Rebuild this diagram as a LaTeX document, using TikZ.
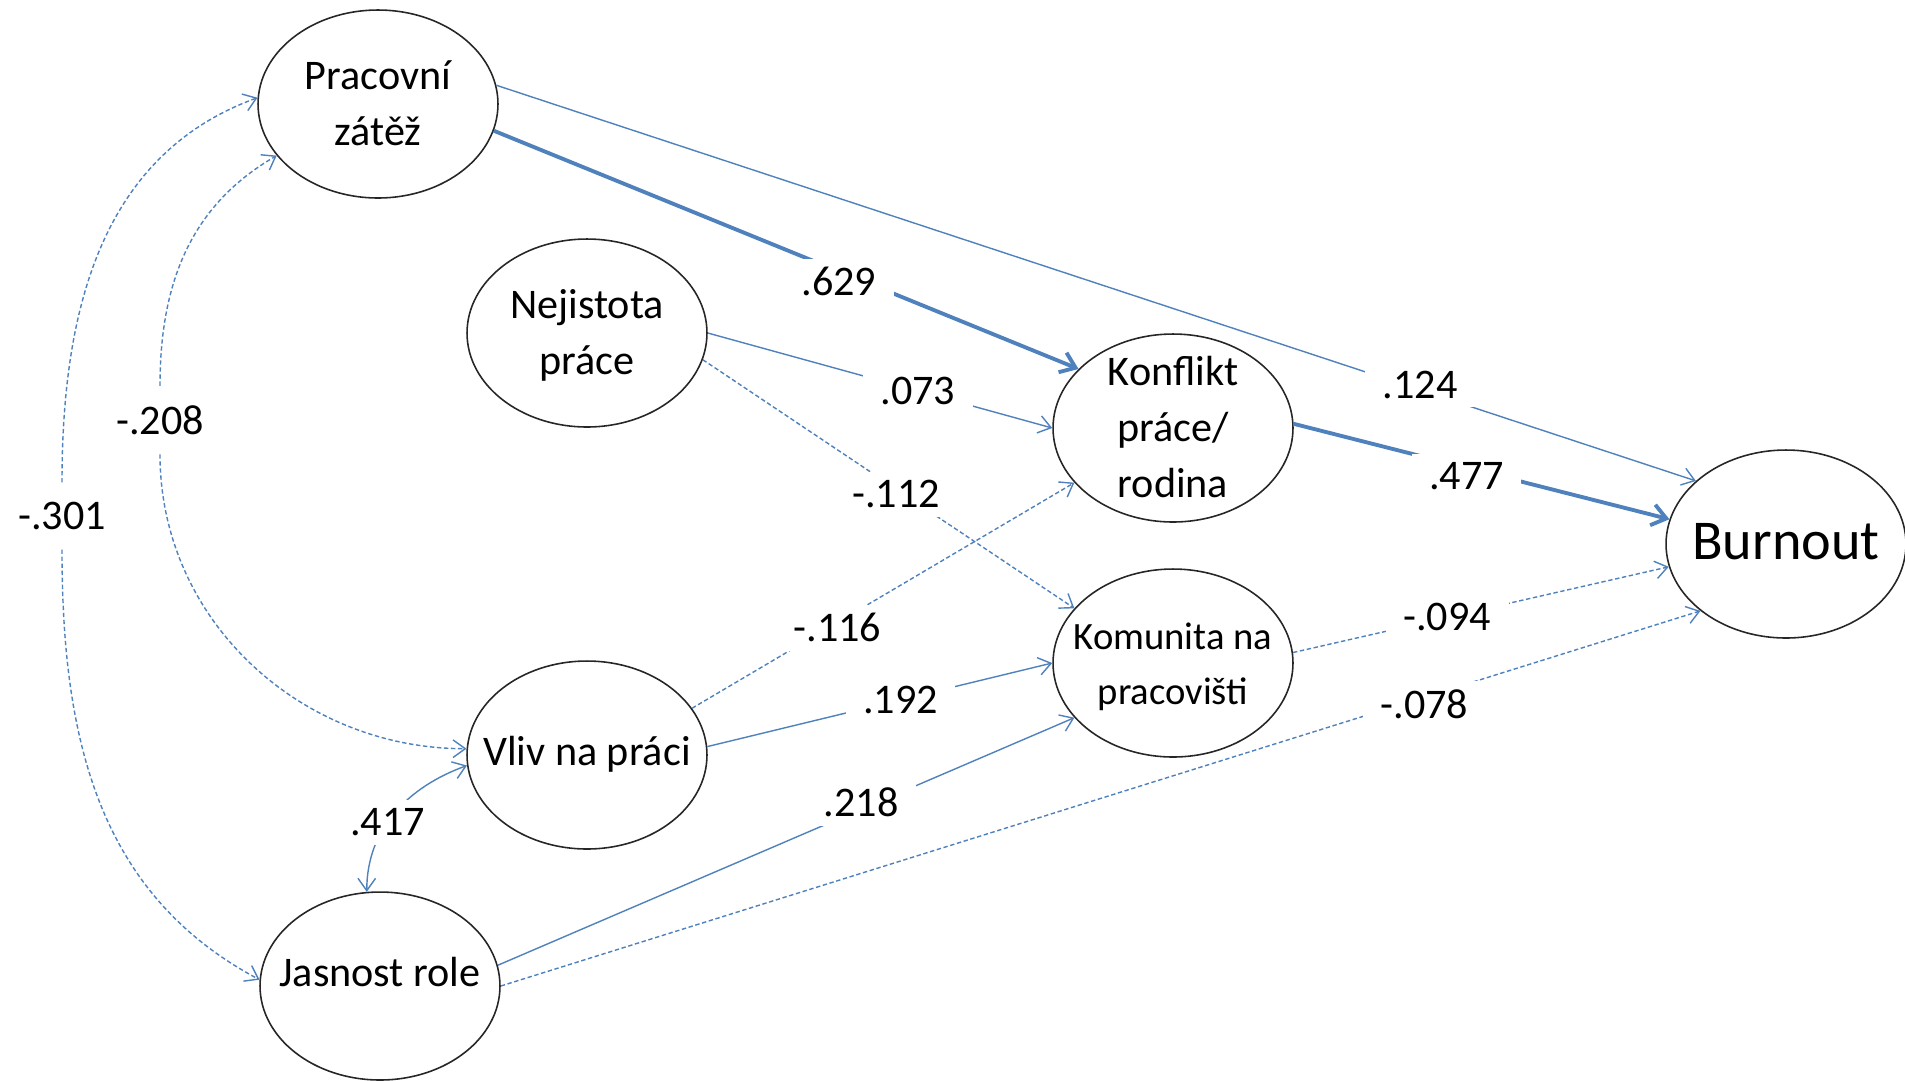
\documentclass[tikz,border=0pt]{standalone}
\usepackage{fontspec}
\setmainfont{Carlito}
\usetikzlibrary{shapes.geometric,arrows.meta}
\definecolor{pathblue}{RGB}{79,129,189}
% text of a latent variable, kept out of the ellipse size
\newcommand{\lvtext}[2][0pt]{\makebox[0pt]{\raisebox{\dimexpr#1-.25em-1.5pt\relax}[0pt][0pt]{\begin{tabular}{@{}c@{}}#2\end{tabular}}}}
\tikzset{
  latent/.style={ellipse, draw=black!85, line width=0.9pt,
                 minimum width=4.8cm, minimum height=3.76cm, inner sep=0pt,
                 font=\fontsize{24}{32}\selectfont},
  >={Straight Barb[length=7pt,width=10pt]},
  arr/.style={pathblue, line width=0.8pt, ->},
  arrstrong/.style={pathblue, line width=2.2pt, -{Straight Barb[length=8pt,width=12pt]}},
  arrweak/.style={arr, dash pattern=on 2.5pt off 1.5pt},
  coef/.style={fill=white, text=black, inner xsep=10pt, inner ysep=5pt,
               font=\fontsize{24}{28}\selectfont},
  covlbl/.style={coef, inner ysep=11pt},
}

\begin{document}
\begin{tikzpicture}[x=0.02cm,y=-0.02cm]
    \useasboundingbox (0,0) rectangle (1905,1080);
    % latent variables
    \node[latent] (pz) at (378,104) {\lvtext{Pracovní\\zátěž}};
    \node[latent] (nej) at (587,333) {\lvtext{Nejistota\\práce}};
    \node[latent] (vliv) at (587,755) {\lvtext[2pt]{Vliv na práci}};
    \node[latent] (jas) at (380,986) {\lvtext[7.5pt]{Jasnost role}};
    \node[latent] (kpr) at (1173,428) {\lvtext{Konflikt\\práce/\\rodina}};
    \node[latent, font=\fontsize{22}{31}\selectfont] (kom) at (1173,663) {\lvtext{Komunita na\\pracovišti}};
    \node[latent, font=\fontsize{32}{36}\selectfont] (burn) at (1786,544) {\lvtext[1.5pt]{Burnout}};
    % paths to Konflikt
    \draw[arrstrong] (pz.-13) -- node[coef,pos=.59,yshift=-6pt] (l629) {.629} (kpr.148);
    \draw[arr] (nej.0) -- node[coef,pos=.61] (l073) {.073} (kpr.180);
    \draw[arrweak] (vliv.24) -- node[coef,pos=.38,yshift=-3pt] (l116) {-.116} (kpr.209);
    % paths to Komunita
    \draw[arrweak] (nej.-13) -- node[coef,pos=.52,yshift=-3pt] (l112) {-.112} (kom.151);
    \draw[arr] (vliv.4) -- node[coef,pos=.56] (l192) {.192} (kom.180);
    \draw[arr] (jas.10) -- node[coef,pos=.63,yshift=4pt] (l218) {.218} (kom.209);
    % paths to Burnout
    \draw[arr] (pz.9) -- node[coef,pos=.77,yshift=3pt] (l124) {.124} (burn.145);
    \draw[arrstrong] (kpr.2) -- node[coef,pos=.46,yshift=-5pt] (l477) {.477} (burn.168);
    \draw[arrweak] (kom.5) -- node[coef,pos=.41] (l094) {-.094} (burn.191);
    \draw[arrweak] (jas.0) -- node[coef,pos=.77,yshift=-4pt] (l078) {-.078} (burn.218);
    % covariances
    \node[covlbl] (l301) at (62,516) {-.301};
    \draw[arrweak] (l301) to[out=90,in=200] (pz.177);
    \draw[arrweak] (l301) to[out=-90,in=152] (jas.177);
    \node[covlbl] (l208) at (160,420) {-.208};
    \draw[arrweak] (l208) to[out=90,in=210] (pz.207);
    \draw[arrweak] (l208) to[out=-90,in=180] (vliv.177);
    \draw[arr,<->] (vliv.185) to[out=200,in=90] node[coef,pos=.57] (l417) {.417} (jas.98);
\end{tikzpicture}
\end{document}
